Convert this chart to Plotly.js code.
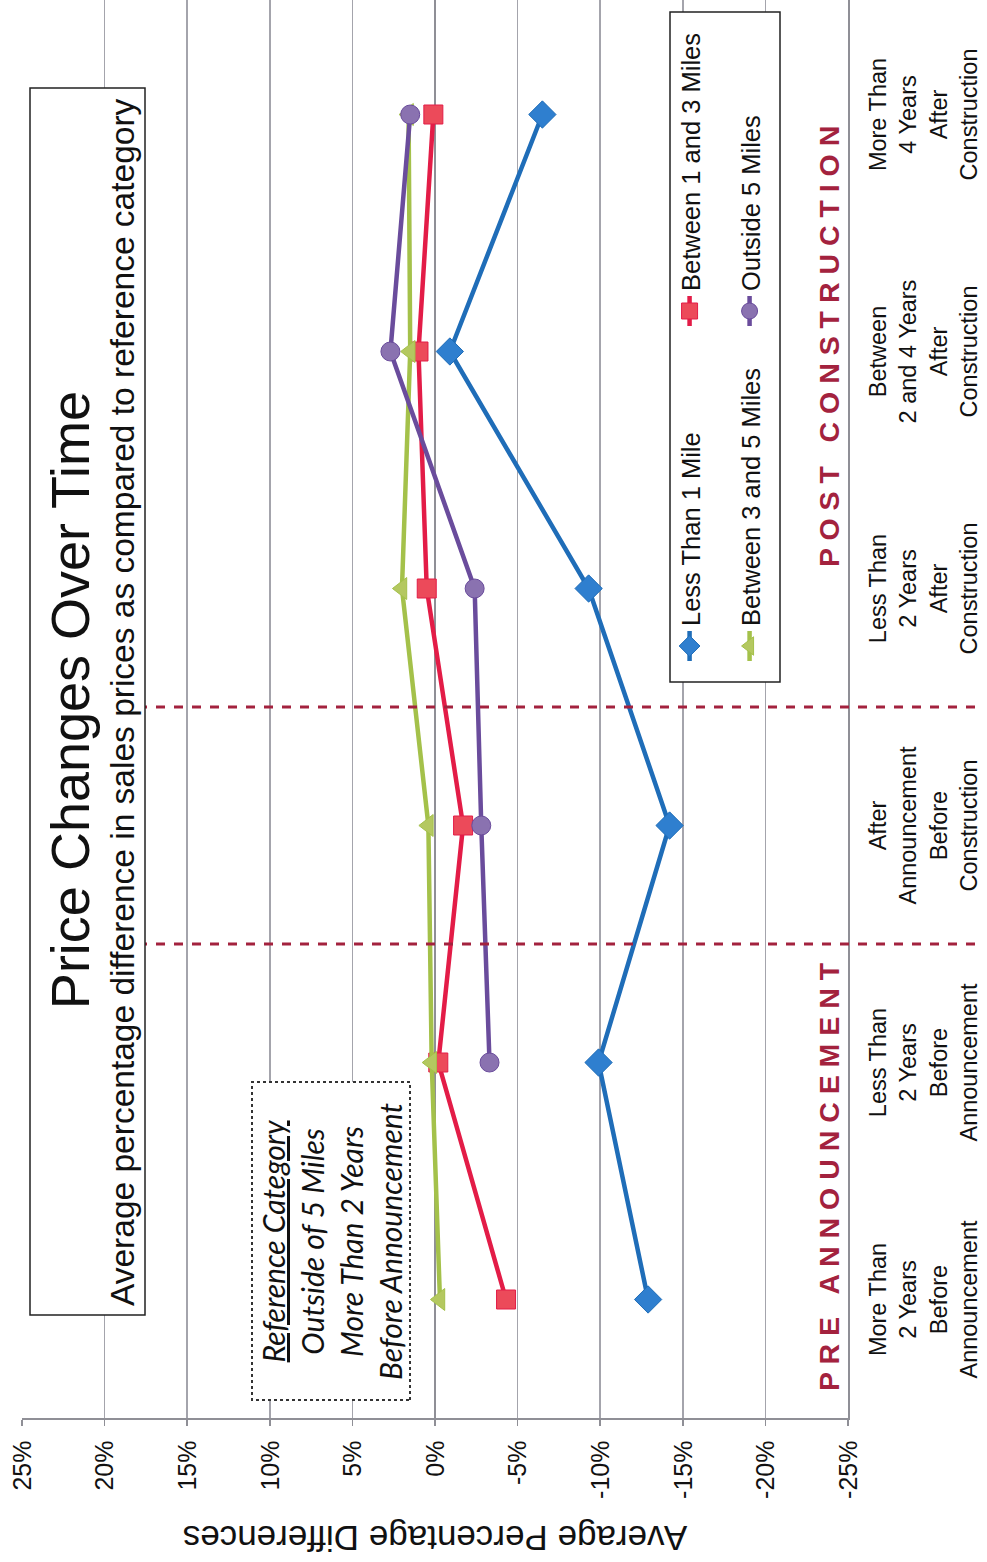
<!DOCTYPE html>
<html><head><meta charset="utf-8">
<script src="https://cdn.plot.ly/plotly-3.0.1.min.js"></script>
<style>
html,body{margin:0;padding:0;background:#fff;overflow:hidden;width:987px;height:1562px;}
#wrap{position:absolute;left:0;top:0;width:1566px;height:987px;transform-origin:0 0;}
</style></head><body>
<div id="wrap"><div id="chart"></div></div>
<script>
// ---- data ----
const categories = [
  "More Than 2 Years Before Announcement",
  "Less Than 2 Years Before Announcement",
  "After Announcement Before Construction",
  "Less Than 2 Years After Construction",
  "Between 2 and 4 Years After Construction",
  "More Than 4 Years After Construction"
];
const categoryLabels = [
  "More Than<br>2 Years<br>Before<br>Announcement",
  "Less Than<br>2 Years<br>Before<br>Announcement",
  "After<br>Announcement<br>Before<br>Construction",
  "Less Than<br>2 Years<br>After<br>Construction",
  "Between<br>2 and 4 Years<br>After<br>Construction",
  "More Than<br>4 Years<br>After<br>Construction"
];
const seriesNames = ["Less Than 1 Mile", "Between 1 and 3 Miles", "Between 3 and 5 Miles", "Outside 5 Miles"];
const lessThan1Mile     = [-12.9, -9.9, -14.2, -9.3, -0.9, -6.5];
const between1And3Miles = [-4.3, -0.2, -1.7, 0.5, 1.0, 0.1];
const between3And5Miles = [-0.3, 0.2, 0.4, 2.0, 1.5, 1.6];
const outside5Miles     = [null, -3.3, -2.8, -2.4, 2.7, 1.5];
const valueTicks = [-25, -20, -15, -10, -5, 0, 5, 10, 15, 20, 25];
const valueTickLabels = ["-25%", "-20%", "-15%", "-10%", "-5%", "0%", "5%", "10%", "15%", "20%", "25%"];
const titleText = "Price Changes Over Time";
const subtitleText = "Average percentage difference in sales prices as compared to reference category";
const yTitleText = "Average Percentage Differences";
const refLines = ["<u>Reference Category</u>", "Outside of 5 Miles", "More Than 2 Years", "Before Announcement"];
const periodLabels = ["P R E \u00a0 A N N O U N C E M E N T", "P O S T \u00a0 C O N S T R U C T I O N"];
const periodCenters = [0.52, 4.02];
const periodBreaks = [1.5, 2.5];

// ---- layout helpers (pixel frame of the unrotated figure) ----
const VIEW = 1562;            // visible length after rotation
const FW = 1566, FH = 987;    // figure size (top 4px fall outside the page, as in the scan)
const L = 144, T = 22, W = FW - L, H = 826;
const px = x => (x - L) / W;
const py = y => (T + H - y) / H;

const styles = [
  {line: "#1f6db8", marker: "#2f7fcf", symbol: "diamond", size: 21, legend: "legend"},
  {line: "#e31c47", marker: "#ec4a5a", symbol: "square", size: 19, legend: "legend"},
  {line: "#a4c14a", marker: "#b4c860", symbol: "triangle-up", size: 19, legend: "legend2"},
  {line: "#6a4c9c", marker: "#8a72b0", symbol: "circle", size: 19, legend: "legend2"}
];
const seriesValues = [lessThan1Mile, between1And3Miles, between3And5Miles, outside5Miles];

const data = seriesValues.map((vals, i) => ({
  type: "scatter", mode: "lines+markers",
  x: categories, y: vals, name: seriesNames[i],
  legend: styles[i].legend,
  line: {color: styles[i].line, width: 4.5},
  marker: {color: styles[i].marker, symbol: styles[i].symbol, size: styles[i].size,
           line: {color: styles[i].line, width: 1}},
  connectgaps: false
}));

const shapes = [];
periodBreaks.forEach(b => shapes.push({
  type: "line", xref: "x", yref: "paper", x0: b, x1: b, y0: py(975), y1: py(145),
  line: {color: "#a3223e", width: 3, dash: "dash"}, layer: "above"
}));
// title box
shapes.push({type: "rect", xref: "paper", yref: "paper", x0: px(247), x1: px(1474), y0: py(145), y1: py(30),
  line: {color: "#222", width: 1.5}, fillcolor: "#fff", layer: "above"});
// reference box
shapes.push({type: "rect", xref: "paper", yref: "paper", x0: px(162), x1: px(480), y0: py(410), y1: py(252),
  line: {color: "#333", width: 2, dash: "dot"}, fillcolor: "#fff", layer: "above"});
// legend box
shapes.push({type: "rect", xref: "paper", yref: "paper", x0: px(880), x1: px(1550), y0: py(780), y1: py(670),
  line: {color: "#222", width: 1.5}, fillcolor: "#fff", layer: "above"});

const annotations = [
  {text: subtitleText, xref: "paper", yref: "paper", x: px(860), y: py(122), xanchor: "center", yanchor: "middle",
   showarrow: false, font: {family: "Liberation Sans, Arial, sans-serif", size: 33.5, color: "#111"}},
  {text: refLines.join("<br>"), xref: "paper", yref: "paper", x: px(321), y: py(331), xanchor: "center", yanchor: "middle",
   showarrow: false, align: "center",
   font: {family: "Lato, sans-serif", size: 30, color: "#111", style: "italic"}}
];
periodLabels.forEach((t, i) => annotations.push({
  text: t, xref: "x", yref: "paper", x: periodCenters[i], y: 0, xanchor: "center", yanchor: "bottom", yshift: 1,
  showarrow: false, font: {family: "Liberation Sans, Arial, sans-serif", size: 28.5, color: "#a3223e", weight: "bold"}
}));

const legendBase = {
  orientation: "h", xanchor: "left", yanchor: "middle", entrywidth: 290, entrywidthmode: "pixels",
  bgcolor: "rgba(0,0,0,0)", borderwidth: 0,
  font: {family: "Liberation Sans, Arial, sans-serif", size: 25.5, color: "#111"}
};

const layout = {
  width: FW, height: FH,
  margin: {l: L, r: 0, t: T, b: FH - T - H, autoexpand: false},
  paper_bgcolor: "#fff", plot_bgcolor: "#fff",
  font: {family: "Liberation Sans, Arial, sans-serif", color: "#111"},
  title: {text: titleText, xref: "container", yref: "container", x: 862 / FW, y: 1 - 70 / FH,
          xanchor: "center", yanchor: "middle",
          font: {family: "Liberation Sans, Arial, sans-serif", size: 54, color: "#111"}},
  showlegend: true,
  legend: Object.assign({}, legendBase, {x: px(896), y: py(690)}),
  legend2: Object.assign({}, legendBase, {x: px(896), y: py(750)}),
  xaxis: {
    type: "category", categoryorder: "array", categoryarray: categories,
    tickvals: categories, ticktext: categoryLabels,
    range: [-0.5, 5.5], showgrid: false, zeroline: false,
    showline: true, linecolor: "#8f8f96", linewidth: 1.5,
    ticks: "", ticklabelstandoff: 8,
    tickfont: {size: 23.5, color: "#111"}
  },
  yaxis: {
    range: [-25, 25], tickvals: valueTicks, ticktext: valueTickLabels,
    showgrid: true, gridcolor: "#a4a4ac", gridwidth: 1.5,
    zeroline: true, zerolinecolor: "#8f8f96", zerolinewidth: 1.6,
    showline: true, linecolor: "#8f8f96", linewidth: 1.5,
    ticks: "outside", ticklen: 6, tickcolor: "#8f8f96", tickwidth: 1.5,
    ticklabelstandoff: 10,
    tickfont: {size: 25, color: "#111"},
    title: {text: yTitleText, standoff: 16, font: {size: 35, color: "#111"}}
  },
  shapes: shapes,
  annotations: annotations
};

Plotly.newPlot("chart", data, layout, {staticPlot: true, displayModeBar: false}).then(() => {
  document.getElementById("wrap").style.transform = "translate(0px," + VIEW + "px) rotate(-90deg)";
});
</script>
</body></html>
